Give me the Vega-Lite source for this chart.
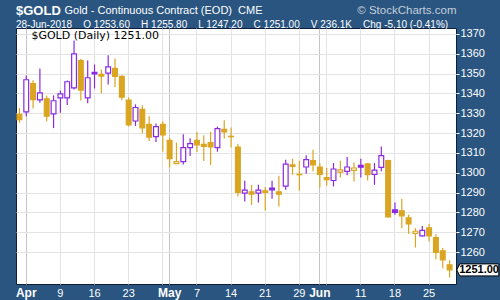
{
  "$schema": "https://vega.github.io/schema/vega-lite/v6.json",
  "width": 440,
  "height": 256,
  "autosize": {"type": "none"},
  "padding": {"left": 16, "top": 28, "right": 44, "bottom": 16},
  "background": "#295580",
  "view": {"fill": "white", "stroke": "#0b1e3c", "strokeWidth": 1},
  "config": {"font": "Liberation Sans"},
  "title": {
    "text": "$GOLD",
    "subtitle": "28-Jun-2018\u00a0\u00a0\u00a0\u00a0O 1253.60\u00a0\u00a0\u00a0\u00a0H 1255.80\u00a0\u00a0\u00a0\u00a0L 1247.20\u00a0\u00a0\u00a0\u00a0C 1251.00\u00a0\u00a0\u00a0\u00a0V 236.1K\u00a0\u00a0\u00a0\u00a0Chg -5.10 (-0.41%)",
    "anchor": "start",
    "frame": "group",
    "color": "white",
    "font": "Liberation Sans",
    "fontSize": 13,
    "fontWeight": "bold",
    "subtitleColor": "white",
    "subtitleFont": "Liberation Sans",
    "subtitleFontSize": 10,
    "subtitlePadding": 2,
    "offset": 0,
    "dy": 25.5
  },
  "data": {"values": [
    {"date": "2018-03-29", "open": 1329.4, "high": 1332.7, "low": 1325.2, "close": 1326.8, "trend": "down"},
    {"date": "2018-04-02", "open": 1330.7, "high": 1349.1, "low": 1328.5, "close": 1346.9, "trend": "up"},
    {"date": "2018-04-03", "open": 1345.0, "high": 1346.7, "low": 1332.4, "close": 1336.9, "trend": "down"},
    {"date": "2018-04-04", "open": 1336.8, "high": 1352.6, "low": 1335.3, "close": 1340.3, "trend": "up"},
    {"date": "2018-04-05", "open": 1337.3, "high": 1339.0, "low": 1326.0, "close": 1328.5, "trend": "down"},
    {"date": "2018-04-06", "open": 1329.7, "high": 1339.0, "low": 1322.5, "close": 1336.3, "trend": "up"},
    {"date": "2018-04-09", "open": 1337.8, "high": 1341.5, "low": 1330.2, "close": 1339.8, "trend": "up"},
    {"date": "2018-04-10", "open": 1337.8, "high": 1346.5, "low": 1334.2, "close": 1345.9, "trend": "up"},
    {"date": "2018-04-11", "open": 1342.8, "high": 1366.7, "low": 1342.0, "close": 1360.0, "trend": "up"},
    {"date": "2018-04-12", "open": 1356.6, "high": 1357.5, "low": 1336.4, "close": 1341.6, "trend": "down"},
    {"date": "2018-04-13", "open": 1337.8, "high": 1356.6, "low": 1335.1, "close": 1347.9, "trend": "up"},
    {"date": "2018-04-16", "open": 1350.6, "high": 1354.6, "low": 1342.5, "close": 1349.8, "trend": "up"},
    {"date": "2018-04-17", "open": 1349.6, "high": 1352.1, "low": 1340.0, "close": 1348.7, "trend": "down"},
    {"date": "2018-04-18", "open": 1350.2, "high": 1359.2, "low": 1344.5, "close": 1353.4, "trend": "up"},
    {"date": "2018-04-19", "open": 1352.6, "high": 1357.6, "low": 1343.2, "close": 1348.6, "trend": "down"},
    {"date": "2018-04-20", "open": 1348.6, "high": 1349.2, "low": 1336.6, "close": 1338.1, "trend": "down"},
    {"date": "2018-04-23", "open": 1336.6, "high": 1337.9, "low": 1323.3, "close": 1324.1, "trend": "down"},
    {"date": "2018-04-24", "open": 1326.1, "high": 1334.5, "low": 1323.6, "close": 1332.9, "trend": "up"},
    {"date": "2018-04-25", "open": 1332.0, "high": 1334.0, "low": 1319.9, "close": 1322.6, "trend": "down"},
    {"date": "2018-04-26", "open": 1324.4, "high": 1328.5, "low": 1316.0, "close": 1318.0, "trend": "down"},
    {"date": "2018-04-27", "open": 1318.2, "high": 1324.8, "low": 1315.5, "close": 1323.3, "trend": "up"},
    {"date": "2018-04-30", "open": 1324.4, "high": 1325.8, "low": 1310.6, "close": 1319.1, "trend": "down"},
    {"date": "2018-05-01", "open": 1316.4, "high": 1317.7, "low": 1302.6, "close": 1307.1, "trend": "down"},
    {"date": "2018-05-02", "open": 1304.6, "high": 1315.2, "low": 1304.4, "close": 1305.6, "trend": "down"},
    {"date": "2018-05-03", "open": 1305.6, "high": 1319.4, "low": 1304.2, "close": 1312.7, "trend": "up"},
    {"date": "2018-05-04", "open": 1312.7, "high": 1317.4, "low": 1308.5, "close": 1314.7, "trend": "up"},
    {"date": "2018-05-07", "open": 1316.4, "high": 1320.6, "low": 1310.5, "close": 1314.0, "trend": "down"},
    {"date": "2018-05-08", "open": 1314.3, "high": 1318.9, "low": 1305.9, "close": 1313.3, "trend": "down"},
    {"date": "2018-05-09", "open": 1315.2, "high": 1320.7, "low": 1303.9, "close": 1313.0, "trend": "down"},
    {"date": "2018-05-10", "open": 1312.7, "high": 1323.3, "low": 1310.6, "close": 1322.3, "trend": "up"},
    {"date": "2018-05-11", "open": 1321.9, "high": 1326.5, "low": 1317.2, "close": 1320.6, "trend": "down"},
    {"date": "2018-05-14", "open": 1318.4, "high": 1322.8, "low": 1312.7, "close": 1318.2, "trend": "down"},
    {"date": "2018-05-15", "open": 1313.0, "high": 1314.6, "low": 1288.0, "close": 1290.1, "trend": "down"},
    {"date": "2018-05-16", "open": 1289.7, "high": 1296.0, "low": 1285.5, "close": 1291.2, "trend": "up"},
    {"date": "2018-05-17", "open": 1290.4, "high": 1293.9, "low": 1283.8, "close": 1289.2, "trend": "down"},
    {"date": "2018-05-18", "open": 1289.7, "high": 1293.9, "low": 1285.0, "close": 1291.2, "trend": "up"},
    {"date": "2018-05-21", "open": 1290.9, "high": 1292.8, "low": 1281.0, "close": 1290.1, "trend": "down"},
    {"date": "2018-05-22", "open": 1292.3, "high": 1296.0, "low": 1286.9, "close": 1291.4, "trend": "up"},
    {"date": "2018-05-23", "open": 1290.4, "high": 1298.5, "low": 1283.0, "close": 1289.2, "trend": "down"},
    {"date": "2018-05-24", "open": 1293.3, "high": 1306.6, "low": 1291.4, "close": 1304.4, "trend": "up"},
    {"date": "2018-05-25", "open": 1304.0, "high": 1307.1, "low": 1299.0, "close": 1303.2, "trend": "down"},
    {"date": "2018-05-29", "open": 1299.2, "high": 1306.1, "low": 1290.9, "close": 1299.0, "trend": "down"},
    {"date": "2018-05-30", "open": 1302.9, "high": 1308.8, "low": 1299.5, "close": 1306.6, "trend": "up"},
    {"date": "2018-05-31", "open": 1306.1, "high": 1311.6, "low": 1300.7, "close": 1304.0, "trend": "down"},
    {"date": "2018-06-01", "open": 1302.9, "high": 1304.9, "low": 1292.6, "close": 1299.2, "trend": "down"},
    {"date": "2018-06-04", "open": 1297.5, "high": 1302.4, "low": 1293.4, "close": 1296.5, "trend": "down"},
    {"date": "2018-06-05", "open": 1296.1, "high": 1304.9, "low": 1293.1, "close": 1301.9, "trend": "up"},
    {"date": "2018-06-06", "open": 1300.3, "high": 1306.1, "low": 1297.6, "close": 1301.5, "trend": "down"},
    {"date": "2018-06-07", "open": 1300.7, "high": 1307.9, "low": 1298.7, "close": 1302.9, "trend": "up"},
    {"date": "2018-06-08", "open": 1301.2, "high": 1305.2, "low": 1295.6, "close": 1302.4, "trend": "down"},
    {"date": "2018-06-11", "open": 1303.7, "high": 1307.1, "low": 1297.6, "close": 1302.8, "trend": "up"},
    {"date": "2018-06-12", "open": 1304.5, "high": 1304.9, "low": 1296.1, "close": 1299.0, "trend": "down"},
    {"date": "2018-06-13", "open": 1299.2, "high": 1304.9, "low": 1293.9, "close": 1301.3, "trend": "up"},
    {"date": "2018-06-14", "open": 1302.7, "high": 1313.3, "low": 1300.7, "close": 1308.6, "trend": "up"},
    {"date": "2018-06-15", "open": 1306.1, "high": 1306.6, "low": 1277.3, "close": 1277.8, "trend": "down"},
    {"date": "2018-06-18", "open": 1281.3, "high": 1285.0, "low": 1278.8, "close": 1280.0, "trend": "up"},
    {"date": "2018-06-19", "open": 1280.8, "high": 1286.9, "low": 1272.2, "close": 1278.3, "trend": "down"},
    {"date": "2018-06-20", "open": 1277.3, "high": 1278.8, "low": 1269.2, "close": 1274.2, "trend": "down"},
    {"date": "2018-06-21", "open": 1269.4, "high": 1272.1, "low": 1262.3, "close": 1270.5, "trend": "down"},
    {"date": "2018-06-22", "open": 1268.2, "high": 1273.2, "low": 1267.8, "close": 1270.9, "trend": "up"},
    {"date": "2018-06-25", "open": 1272.2, "high": 1274.2, "low": 1265.3, "close": 1268.2, "trend": "down"},
    {"date": "2018-06-26", "open": 1267.3, "high": 1269.0, "low": 1256.4, "close": 1259.8, "trend": "down"},
    {"date": "2018-06-27", "open": 1260.6, "high": 1262.0, "low": 1251.9, "close": 1256.1, "trend": "down"},
    {"date": "2018-06-28", "open": 1253.6, "high": 1255.8, "low": 1247.2, "close": 1251.0, "trend": "down"}
  ]},
  "layer": [
    {
      "mark": {"type": "rule", "strokeWidth": 1.2},
      "encoding": {
        "x": {
          "field": "date", "type": "ordinal",
          "scale": {"type": "band", "paddingInner": 0, "paddingOuter": 0.22, "align": 0},
          "axis": {
            "values": ["2018-04-02","2018-04-09","2018-04-16","2018-04-23","2018-04-30","2018-05-01","2018-05-07","2018-05-14","2018-05-21","2018-05-29","2018-06-01","2018-06-04","2018-06-11","2018-06-18","2018-06-25"],
            "labelExpr": "datum.value == '2018-04-02' ? 'Apr' : datum.value == '2018-05-01' ? 'May' : datum.value == '2018-06-01' ? 'Jun' : (datum.value == '2018-04-30' || datum.value == '2018-06-04') ? '' : '' + toNumber(substring(datum.value, 8, 10))",
            "labelAngle": 0,
            "labelColor": "white",
            "labelFont": "Liberation Sans",
            "labelFontSize": {"condition": {"test": "datum.value == '2018-04-02' || datum.value == '2018-05-01' || datum.value == '2018-06-01'", "value": 12}, "value": 11},
            "labelFontWeight": {"condition": {"test": "datum.value == '2018-04-02' || datum.value == '2018-05-01' || datum.value == '2018-06-01'", "value": "bold"}, "value": "normal"},
            "labelPadding": 3,
            "labelOverlap": false,
            "ticks": false,
            "domain": false,
            "grid": true,
            "bandPosition": 0.5,
            "gridColor": {"condition": {"test": "datum.value == '2018-04-02' || datum.value == '2018-05-01' || datum.value == '2018-06-01'", "value": "#c4c4c4"}, "value": "#e3e3e3"},
            "title": "Gold - Continuous Contract (EOD)\u00a0\u00a0CME",
            "titleX": 48,
            "titleY": -271,
            "titleAlign": "left",
            "titleAnchor": "start",
            "titleBaseline": "alphabetic",
            "titleColor": "white",
            "titleFont": "Liberation Sans",
            "titleFontSize": 11,
            "titleFontWeight": "normal"
          }
        },
        "y": {
          "field": "low", "type": "quantitative",
          "scale": {"domain": [1243.9, 1373], "nice": false, "zero": false},
          "axis": {
            "orient": "right",
            "values": [1260, 1270, 1280, 1290, 1300, 1310, 1320, 1330, 1340, 1350, 1360, 1370],
            "tickCount": 12,
            "format": "d",
            "labelColor": "white",
            "labelFont": "Liberation Sans",
            "labelFontSize": 11,
            "labelPadding": 1,
            "labelOverlap": false,
            "tickColor": "white",
            "tickSize": 3,
            "domain": false,
            "grid": true,
            "gridColor": "#e3e3e3",
            "title": "\u00a9 StockCharts.com",
            "titleAngle": 0,
            "titleX": 0,
            "titleY": -15,
            "titleAlign": "right",
            "titleBaseline": "alphabetic",
            "titleColor": "#c5cfdb",
            "titleFont": "Liberation Sans",
            "titleFontSize": 11.5,
            "titleFontWeight": "normal"
          }
        },
        "y2": {"field": "high"},
        "color": {"field": "trend", "type": "nominal", "scale": {"domain": ["up", "down"], "range": ["#8a2be2", "#daa520"]}, "legend": null}
      }
    },
    {
      "mark": {"type": "bar", "size": 4.8, "strokeWidth": 1.2},
      "encoding": {
        "x": {"field": "date", "type": "ordinal"},
        "y": {"field": "open", "type": "quantitative", "axis": {"orient": "right", "values": [1260, 1270, 1280, 1290, 1300, 1310, 1320, 1330, 1340, 1350, 1360, 1370], "tickCount": 12, "labelOverlap": false}},
        "y2": {"field": "close"},
        "stroke": {"field": "trend", "type": "nominal", "scale": {"domain": ["up", "down"], "range": ["#8a2be2", "#daa520"]}, "legend": null},
        "fill": {"condition": {"test": "datum.close > datum.open", "value": "white"}, "field": "trend", "type": "nominal", "scale": {"domain": ["up", "down"], "range": ["#8a2be2", "#daa520"]}, "legend": null}
      }
    },
    {
      "data": {"values": [{"date": "2018-06-28", "close": 1251.0, "label": "1251.00"}]},
      "mark": {"type": "point", "shape": "M1.2,0L1.7,-1L8.2,-1L8.2,1L1.7,1Z", "size": 144, "filled": true, "fill": "white", "stroke": "black", "strokeWidth": 1, "opacity": 1},
      "encoding": {
        "x": {"field": "date", "type": "ordinal"},
        "y": {"field": "close", "type": "quantitative", "axis": {"orient": "right", "values": [1260, 1270, 1280, 1290, 1300, 1310, 1320, 1330, 1340, 1350, 1360, 1370], "tickCount": 12, "labelOverlap": false}}
      }
    },
    {
      "data": {"values": [{"date": "2018-06-28", "close": 1251.0, "label": "1251.00"}]},
      "mark": {"type": "text", "dx": 29.5, "font": "Liberation Sans", "fontSize": 11, "fontWeight": "bold", "color": "black", "baseline": "middle"},
      "encoding": {
        "x": {"field": "date", "type": "ordinal"},
        "y": {"field": "close", "type": "quantitative", "axis": {"orient": "right", "values": [1260, 1270, 1280, 1290, 1300, 1310, 1320, 1330, 1340, 1350, 1360, 1370], "tickCount": 12, "labelOverlap": false}},
        "text": {"field": "label"}
      }
    },
    {
      "data": {"values": [{"date": "2018-03-29", "close": 1368.8, "label": "$GOLD (Daily) 1251.00"}]},
      "mark": {"type": "text", "align": "left", "dx": 12, "font": "DejaVu Sans", "fontSize": 11, "color": "black", "baseline": "middle"},
      "encoding": {
        "x": {"field": "date", "type": "ordinal"},
        "y": {"field": "close", "type": "quantitative", "axis": {"orient": "right", "values": [1260, 1270, 1280, 1290, 1300, 1310, 1320, 1330, 1340, 1350, 1360, 1370], "tickCount": 12, "labelOverlap": false}},
        "text": {"field": "label"}
      }
    }
  ]
}
